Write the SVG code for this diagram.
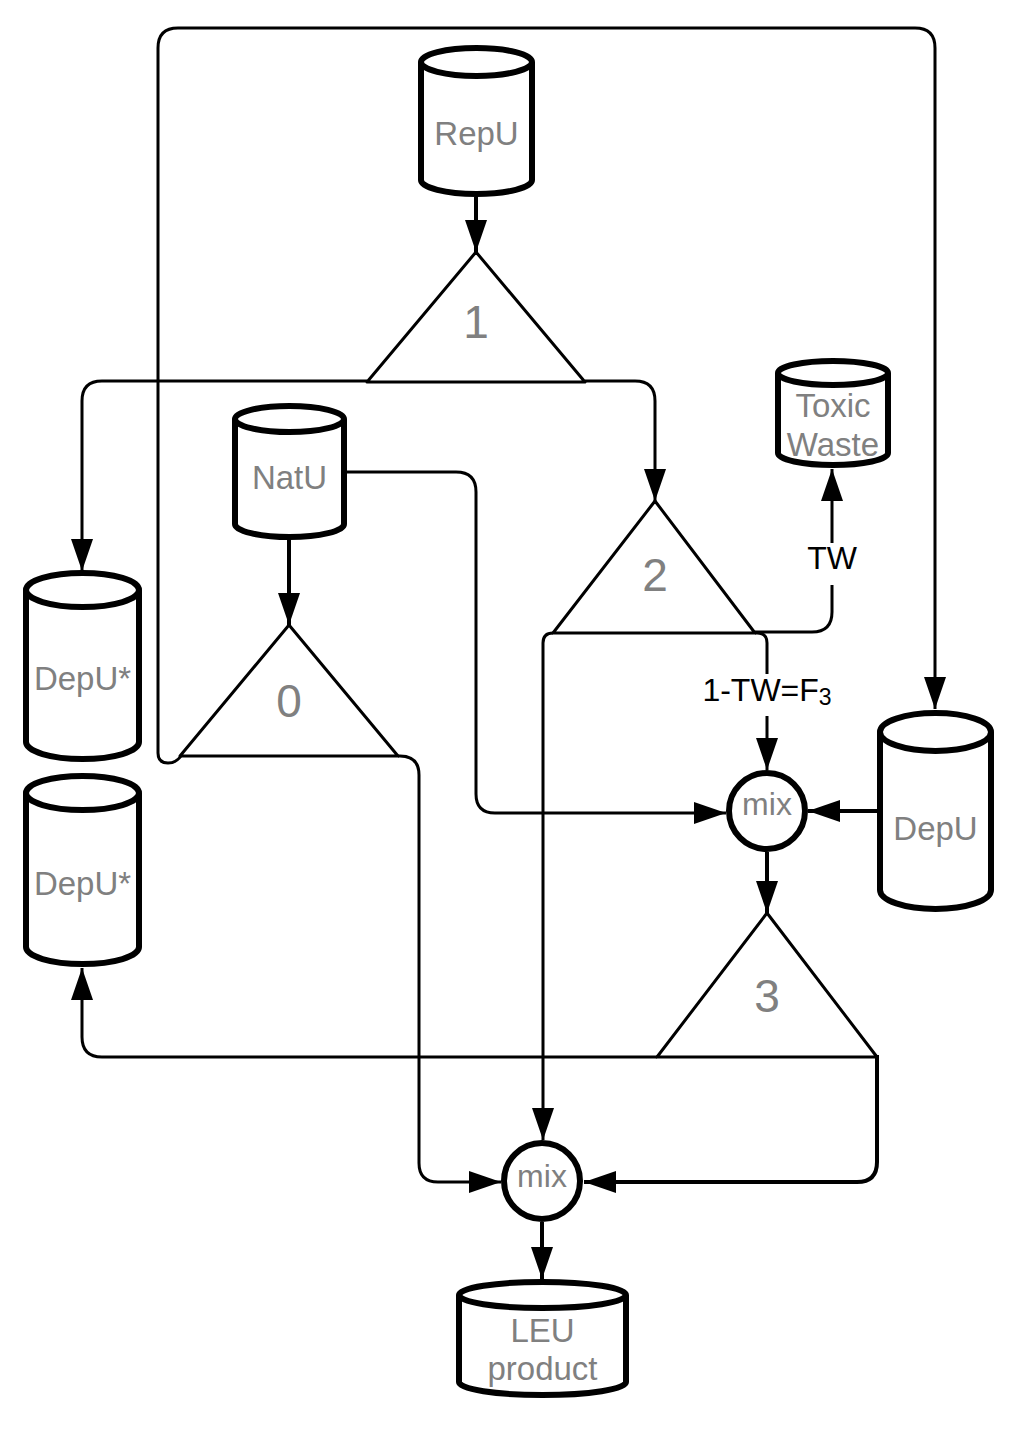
<svg xmlns="http://www.w3.org/2000/svg" width="1026" height="1429" viewBox="0 0 1026 1429">
<defs>
<marker id="arr" markerUnits="userSpaceOnUse" markerWidth="32" markerHeight="22" refX="32" refY="11" orient="auto" viewBox="0 0 32 22">
<path d="M0,0 L32,11 L0,22 z" fill="#000"/>
</marker>
</defs>
<style>
.cyl{fill:#fff;stroke:#000;stroke-width:6;stroke-linejoin:round}
.tri{fill:#fff;stroke:#000;stroke-width:3;stroke-linejoin:round}
.mix{fill:#fff;stroke:#000;stroke-width:6}
.c{fill:none;stroke:#000;stroke-width:3;stroke-linejoin:round}
.ca{fill:none;stroke:#000;stroke-width:3;marker-end:url(#arr)}
.t{font-family:"Liberation Sans",Arial,sans-serif;fill:#808080;text-anchor:middle;font-size:33px}
.d{font-family:"Liberation Sans",Arial,sans-serif;fill:#808080;text-anchor:middle;font-size:46px}
.m{font-family:"Liberation Sans",Arial,sans-serif;fill:#808080;text-anchor:middle;font-size:32px}
.l{font-family:"Liberation Sans",Arial,sans-serif;fill:#000;text-anchor:middle;font-size:32px}
</style>
<rect width="1026" height="1429" fill="#fff"/>
<g id="connectors">
<path class="ca" style="stroke-width:4" d="M476,197 L476,252"/>
<path class="ca" d="M367,381 L102,381 Q82,381 82,401 L82,571"/>
<path class="ca" d="M585,381 L635,381 Q655,381 655,401 L655,501"/>
<path class="ca" d="M755,632 L812,632 Q832,632 832,612 L832,469"/>
<path class="ca" d="M755,633 L757,633 Q767,633 767,643 L767,770"/>
<path class="ca" d="M553,633 Q543,633 543,643 L543,1140"/>
<path class="ca" style="stroke-width:4" d="M289,540 L289,625"/>
<path class="ca" d="M181,756 Q176,763 168,763 Q158,763 158,753 L158,48 Q158,28 178,28 L915,28 Q935,28 935,48 L935,709"/>
<path class="ca" d="M398,756 L400,756 Q419,756 419,775 L419,1163 Q419,1182 438,1182 L501,1182"/>
<path class="ca" d="M347,472 L456,472 Q476,472 476,492 L476,794 Q476,813 495,813 L726,813"/>
<path class="ca" style="stroke-width:4" d="M880,811 L808,811"/>
<path class="ca" style="stroke-width:4" d="M767,852 L767,913"/>
<path class="ca" d="M657,1057 L102,1057 Q82,1057 82,1037 L82,968"/>
<path class="ca" style="stroke-width:4" d="M877,1055 L877,1162 Q877,1182 857,1182 L584,1182"/>
<path class="ca" style="stroke-width:4" d="M542,1222 L542,1279"/>
<rect x="806" y="543" width="52" height="42" fill="#fff"/>
<text class="l" x="832" y="569">TW</text>
<rect x="696" y="674" width="144" height="42" fill="#fff"/>
<text class="l" x="767" y="701">1-TW=F<tspan font-size="23" dy="4">3</tspan></text>
</g>
<g id="RepU">
<path class="cyl" d="M421,62 L421,180 A55.5,14 0 0 0 532,180 L532,62 A55.5,14 0 0 0 421,62 Z"/>
<path class="cyl" d="M421,62 A55.5,14 0 0 0 532,62"/>
<text class="t" x="476.5" y="145">RepU</text>
</g>
<g id="tri1">
<polygon class="tri" points="476,252 585,382 367,382"/>
<text class="d" x="476" y="338">1</text>
</g>
<g id="ToxicWaste">
<path class="cyl" d="M778,373 L778,453 A55,12 0 0 0 888,453 L888,373 A55,12 0 0 0 778,373 Z"/>
<path class="cyl" d="M778,373 A55,12 0 0 0 888,373"/>
<text class="t" x="833" y="417">Toxic</text>
<text class="t" x="833" y="456">Waste</text>
</g>
<g id="NatU">
<path class="cyl" d="M235,419 L235,524 A54.5,13 0 0 0 344,524 L344,419 A54.5,13 0 0 0 235,419 Z"/>
<path class="cyl" d="M235,419 A54.5,13 0 0 0 344,419"/>
<text class="t" x="289.5" y="489">NatU</text>
</g>
<g id="tri2">
<polygon class="tri" points="655,501 755,633 553,633"/>
<text class="d" x="655" y="591">2</text>
</g>
<g id="DepUstar1">
<path class="cyl" d="M26,590 L26,742 A56.5,17 0 0 0 139,742 L139,590 A56.5,17 0 0 0 26,590 Z"/>
<path class="cyl" d="M26,590 A56.5,17 0 0 0 139,590"/>
<text class="t" x="82.5" y="690">DepU*</text>
</g>
<g id="DepUstar2">
<path class="cyl" d="M26,793 L26,947 A56.5,17 0 0 0 139,947 L139,793 A56.5,17 0 0 0 26,793 Z"/>
<path class="cyl" d="M26,793 A56.5,17 0 0 0 139,793"/>
<text class="t" x="82.5" y="895">DepU*</text>
</g>
<g id="tri0">
<polygon class="tri" points="289,625 398,756 180,756"/>
<text class="d" x="289" y="717">0</text>
</g>
<g id="mix1">
<circle class="mix" cx="767" cy="811" r="38"/>
<text class="m" x="767" y="815">mix</text>
</g>
<g id="DepU">
<path class="cyl" d="M880,732 L880,890 A55.5,19 0 0 0 991,890 L991,732 A55.5,19 0 0 0 880,732 Z"/>
<path class="cyl" d="M880,732 A55.5,19 0 0 0 991,732"/>
<text class="t" x="935.5" y="840">DepU</text>
</g>
<g id="tri3">
<polygon class="tri" points="767,913 877,1057 657,1057"/>
<text class="d" x="767" y="1012">3</text>
</g>
<g id="mix2">
<circle class="mix" cx="542" cy="1181" r="38"/>
<text class="m" x="542" y="1187">mix</text>
</g>
<g id="LEU">
<path class="cyl" d="M459,1295 L459,1382 A83.5,13 0 0 0 626,1382 L626,1295 A83.5,13 0 0 0 459,1295 Z"/>
<path class="cyl" d="M459,1295 A83.5,13 0 0 0 626,1295"/>
<text class="t" x="542.5" y="1342">LEU</text>
<text class="t" x="542.5" y="1380">product</text>
</g>
</svg>
